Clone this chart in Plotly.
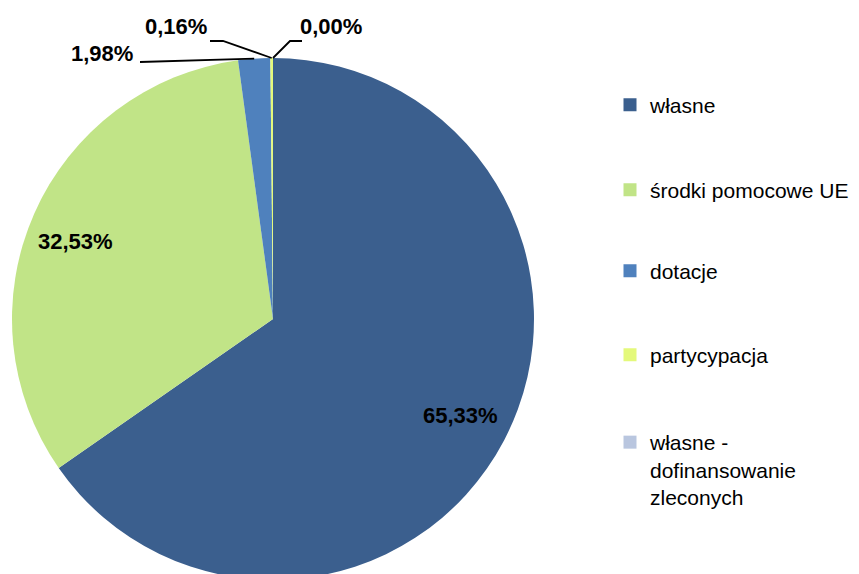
import math
import plotly.graph_objects as go

# ---- data ----
categories = ["własne", "środki pomocowe UE", "dotacje", "partycypacja", "własne - dofinansowanie zleconych"]
legend_labels = ["własne", "środki pomocowe UE", "dotacje", "partycypacja", "własne -<br>dofinansowanie<br>zleconych"]
shares = [65.33, 32.53, 1.98, 0.16, 0.00]
value_labels = ["65,33%", "32,53%", "1,98%", "0,16%", "0,00%"]
colors = ["#3B5F8E", "#C1E487", "#4F81BD", "#E4F97B", "#B9C6DF"]

W, H = 859, 600
# pie geometry (pixels from top-left)
CX, CY, R = 273, 319, 261

def px(x):
    return x / W

def py(y):
    return 1 - y / H

fig = go.Figure()
fig.add_trace(go.Pie(
    labels=categories, values=shares, sort=False, direction="clockwise", rotation=0,
    marker=dict(colors=colors, line=dict(width=0)),
    textinfo="none", hoverinfo="label+percent", showlegend=False,
    domain=dict(x=[px(CX - R), px(CX + R)], y=[py(CY + R), py(CY - R)]),
))

total = sum(shares)

def rim_point(frac, rr=1.0):
    ang = 2 * math.pi * frac
    return CX + R * rr * math.sin(ang), CY - R * rr * math.cos(ang)

cum = 0.0
mids = []
for v in shares:
    mids.append((cum + v / 2) / total)
    cum += v

label_font = dict(family="Liberation Sans, Arial", size=22, color="black")
annotations = []
shapes = []

# inside labels for the two big slices
for i, rr, dx, dy in [(0, 0.80, 2, 0), (1, 0.80, -6, -7)]:
    x, y = rim_point(mids[i], rr)
    annotations.append(dict(x=px(x), y=py(y), xref="paper", yref="paper", text="<b>%s</b>" % value_labels[i],
                            showarrow=False, font=label_font, xanchor="center", yanchor="middle",
                            xshift=dx, yshift=dy))

# outside labels with leader lines
x0, y0 = rim_point(mids[2])
shapes.append(dict(type="path", xref="paper", yref="paper",
                   path="M %f %f L %f %f" % (px(140), py(62), px(x0), py(y0)),
                   line=dict(color="black", width=1.8)))
annotations.append(dict(x=px(135), y=py(53), xref="paper", yref="paper", text="<b>%s</b>" % value_labels[2],
                        showarrow=False, font=label_font, xanchor="right", yanchor="middle"))
x0, y0 = rim_point(mids[3])
shapes.append(dict(type="path", xref="paper", yref="paper",
                   path="M %f %f L %f %f L %f %f" % (px(210), py(41), px(223), py(41), px(x0), py(y0)),
                   line=dict(color="black", width=1.8)))
annotations.append(dict(x=px(176), y=py(26), xref="paper", yref="paper", text="<b>%s</b>" % value_labels[3],
                        showarrow=False, font=label_font, xanchor="center", yanchor="middle"))
x0, y0 = rim_point(mids[4])
shapes.append(dict(type="path", xref="paper", yref="paper",
                   path="M %f %f L %f %f L %f %f" % (px(302), py(41), px(290), py(41), px(x0), py(y0)),
                   line=dict(color="black", width=1.8)))
annotations.append(dict(x=px(331), y=py(26), xref="paper", yref="paper", text="<b>%s</b>" % value_labels[4],
                        showarrow=False, font=label_font, xanchor="center", yanchor="middle"))

# legend: one dummy trace per entry, each in its own legend for spacing
legend_y = [105, 190, 271, 355, 422]
legend_font = dict(family="Liberation Sans, Arial", size=21, color="black")
layout_legends = {}
for i, (lab, col) in enumerate(zip(legend_labels, colors)):
    lname = "legend" if i == 0 else "legend%d" % (i + 1)
    fig.add_trace(go.Scatter(x=[None], y=[None], mode="markers", name=lab,
                             marker=dict(symbol="square", size=13, color=col),
                             legend=lname, showlegend=True, hoverinfo="skip"))
    layout_legends[lname] = dict(x=px(610), y=py(legend_y[i]),
                                 xanchor="left", yanchor="top" if i == 4 else "middle",
                                 valign="top", font=legend_font, bgcolor="rgba(0,0,0,0)",
                                 borderwidth=0, itemclick=False, itemdoubleclick=False)

fig.update_layout(
    width=W, height=H, margin=dict(l=0, r=0, t=0, b=0),
    paper_bgcolor="white", plot_bgcolor="white",
    xaxis=dict(visible=False), yaxis=dict(visible=False),
    annotations=annotations, shapes=shapes, **layout_legends,
)

fig.write_html("out.html", config={"displayModeBar": False},
               post_script="document.body.style.margin='0';document.body.style.overflow='hidden';")
